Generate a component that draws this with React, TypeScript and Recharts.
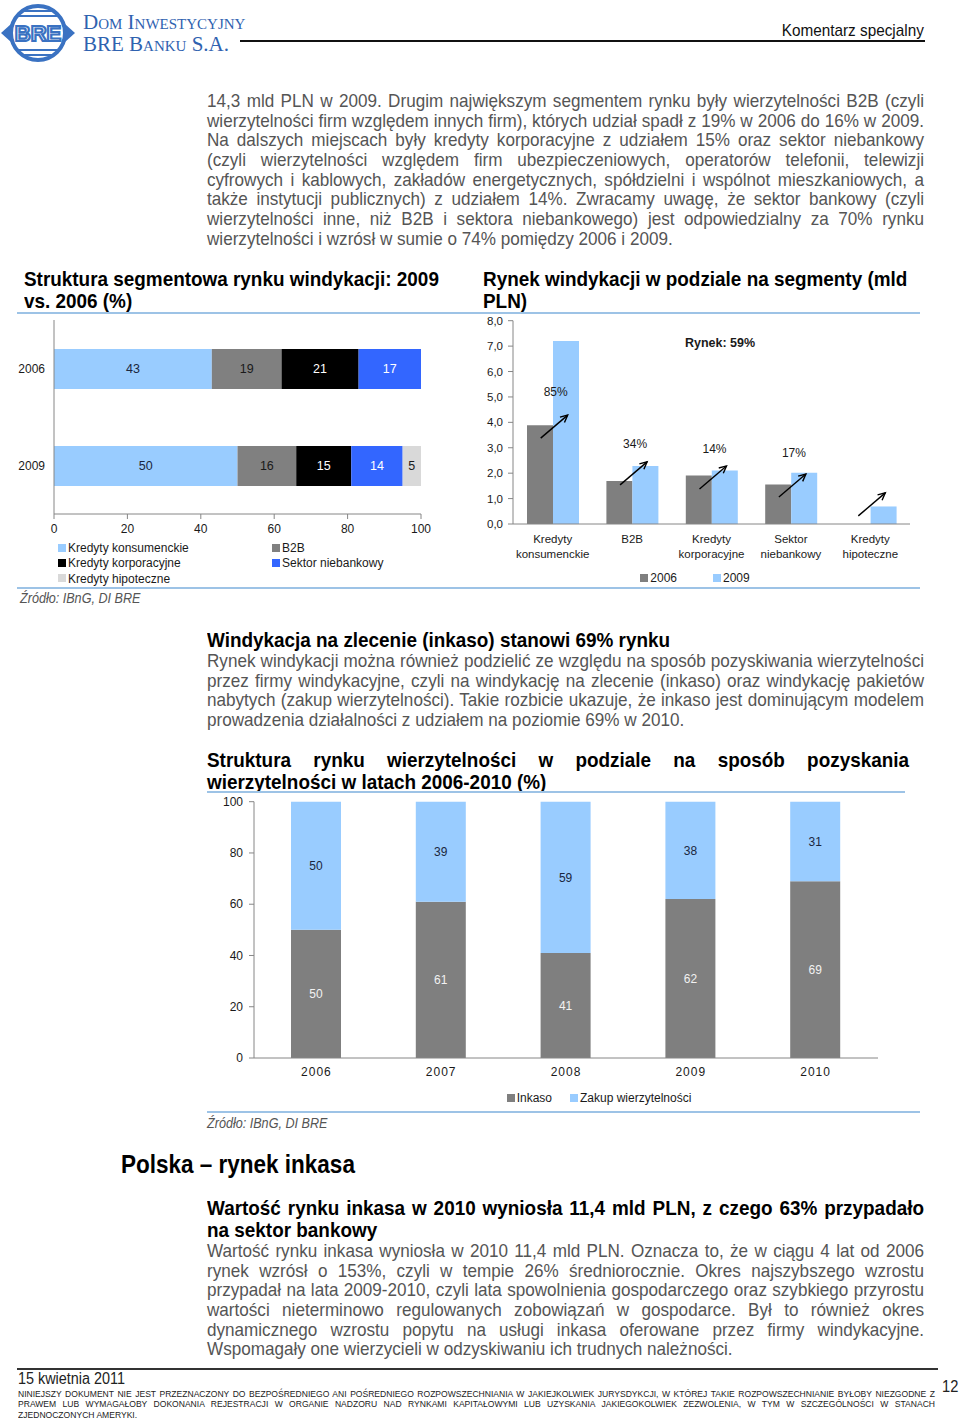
import React from 'react';
import { BarChart, Bar, XAxis, YAxis, LabelList, Legend, ComposedChart, Scatter } from 'recharts';

// ---------- DATA ----------
// Chart 1: Struktura segmentowa (%)
const segYears = ['2006', '2009'];
const segNames = ['Kredyty konsumenckie', 'B2B', 'Kredyty korporacyjne', 'Sektor niebankowy', 'Kredyty hipoteczne'];
const segKeys = ['kons', 'b2b', 'korp', 'sekt', 'hipo'];
const seg2006 = [43, 19, 21, 17, 0];
const seg2009 = [50, 16, 15, 14, 5];
const segColors = ['#99CCFF', '#808080', '#000000', '#3366FF', '#D9D9D9'];
const segLabelColors = ['#1B2740', '#1A1A1A', '#FFFFFF', '#FFFFFF', '#1A1A1A'];
const segTicks = [0, 20, 40, 60, 80, 100];

// Chart 2: Rynek windykacji w podziale na segmenty (mld PLN)
const mktCats = ['Kredyty konsumenckie', 'B2B', 'Kredyty korporacyjne', 'Sektor niebankowy', 'Kredyty hipoteczne'];
const mkt2006 = [3.89, 1.69, 1.91, 1.55, 0];
const mkt2009 = [7.2, 2.28, 2.11, 2.02, 0.69];
const mktGrowth = ['85%', '34%', '14%', '17%', ''];
const mktArrowBase = [3.38, 1.54, 1.38, 1.06, 0.32];
const mktGrowthPos = [5.2, 3.15, 2.95, 2.8, 2.8];
const mktTicks = [0, 1, 2, 3, 4, 5, 6, 7, 8];
const mktSeries = ['2006', '2009'];
const mktColors = ['#7F7F7F', '#99CCFF'];

// Chart 3: Struktura rynku wierzytelności (%)
const wYears = ['2006', '2007', '2008', '2009', '2010'];
const wInkaso = [50, 61, 41, 62, 69];
const wZakup = [50, 39, 59, 38, 31];
const wTicks = [0, 20, 40, 60, 80, 100];
const wSeries = ['Inkaso', 'Zakup wierzytelności'];
const wColors = ['#7F7F7F', '#99CCFF'];

// ---------- TEXT ----------
const para1 = [
  '14,3 mld PLN w 2009. Drugim największym segmentem rynku były wierzytelności B2B (czyli',
  'wierzytelności firm względem innych firm), których udział spadł z 19% w 2006 do 16% w 2009.',
  'Na dalszych miejscach były kredyty korporacyjne z udziałem 15% oraz sektor niebankowy',
  '(czyli wierzytelności względem firm ubezpieczeniowych, operatorów telefonii, telewizji',
  'cyfrowych i kablowych, zakładów energetycznych, spółdzielni i wspólnot mieszkaniowych, a',
  'także instytucji publicznych) z udziałem 14%. Zwracamy uwagę, że sektor bankowy (czyli',
  'wierzytelności inne, niż B2B i sektora niebankowego) jest odpowiedzialny za 70% rynku',
  'wierzytelności i wzrósł w sumie o 74% pomiędzy 2006 i 2009.',
];
const para2 = [
  'Rynek windykacji można również podzielić ze względu na sposób pozyskiwania wierzytelności',
  'przez firmy windykacyjne, czyli na windykację na zlecenie (inkaso) oraz windykację pakietów',
  'nabytych (zakup wierzytelności). Takie rozbicie ukazuje, że inkaso jest dominującym modelem',
  'prowadzenia działalności z udziałem na poziomie 69% w 2010.',
];
const para3 = [
  'Wartość rynku inkasa wyniosła w 2010 11,4 mld PLN. Oznacza to, że w ciągu 4 lat od 2006',
  'rynek wzrósł o 153%, czyli w tempie 26% średniorocznie. Okres najszybszego wzrostu',
  'przypadał na lata 2009-2010, czyli lata spowolnienia gospodarczego oraz szybkiego przyrostu',
  'wartości nieterminowo regulowanych zobowiązań w gospodarce. Był to również okres',
  'dynamicznego wzrostu popytu na usługi inkasa oferowane przez firmy windykacyjne.',
  'Wspomagały one wierzycieli w odzyskiwaniu ich trudnych należności.',
];
const disclaimer = [
  'NINIEJSZY DOKUMENT NIE JEST PRZEZNACZONY DO BEZPOŚREDNIEGO ANI POŚREDNIEGO ROZPOWSZECHNIANIA W JAKIEJKOLWIEK JURYSDYKCJI, W KTÓREJ TAKIE ROZPOWSZECHNIANIE BYŁOBY NIEZGODNE Z',
  'PRAWEM LUB WYMAGAŁOBY DOKONANIA REJESTRACJI W ORGANIE NADZORU NAD RYNKAMI KAPITAŁOWYMI LUB UZYSKANIA JAKIEGOKOLWIEK ZEZWOLENIA, W TYM W SZCZEGÓLNOŚCI W STANACH',
  'ZJEDNOCZONYCH AMERYKI.',
];

const SANS = '"Liberation Sans", Arial, sans-serif';
const SERIF = '"Liberation Serif", "DejaVu Serif", serif';
const BODY = '#555555';
const SEP = '#9DC3E6';
const AXIS = '#868686';
const SX = 0.9; // horizontal condensing of document text

// ---------- derived tables ----------
const segData = segYears.map((y, i) => {
  const row: any = { year: y };
  const vals = i === 0 ? seg2006 : seg2009;
  segKeys.forEach((k, j) => { row[k] = vals[j] || null; });
  return row;
});
const mktData = mktCats.map((c, i) => ({
  cat: c, v2006: mkt2006[i], v2009: mkt2009[i],
  arrow: mktArrowBase[i], growthPos: mktGrowthPos[i], growth: mktGrowth[i],
}));
const wData = wYears.map((y, i) => ({ year: y, inkaso: wInkaso[i], zakup: wZakup[i] }));

const comma1 = (v: number) => v.toFixed(1).replace('.', ',');

// ---------- helpers ----------
function Lines({ left, top, width, lh, lines, style, justifyLast = false, scale = SX }: any) {
  return (
    <div style={{ position: 'absolute', left, top, width: width / scale, transform: `scaleX(${scale})`, transformOrigin: '0 0', fontFamily: SANS, ...style }}>
      {lines.map((t: string, i: number) => (
        <div key={i} style={{
          height: lh, lineHeight: lh + 'px', whiteSpace: 'nowrap', textAlign: 'justify',
          textAlignLast: (i < lines.length - 1 || justifyLast) ? 'justify' : 'left',
        } as any}>{t}</div>
      ))}
    </div>
  );
}

function T({ left, right, top, lh, text, style, scale = SX }: any) {
  const pos: any = right != null ? { right, transformOrigin: '100% 0' } : { left, transformOrigin: '0 0' };
  return (
    <div style={{ position: 'absolute', top, ...pos, transform: `scaleX(${scale})`, lineHeight: lh + 'px', height: lh, whiteSpace: 'nowrap', fontFamily: SANS, ...style }}>{text}</div>
  );
}

function HLine({ x1, x2, y, color, w }: any) {
  return <div style={{ position: 'absolute', left: x1, top: y - w / 2, width: x2 - x1, height: w, background: color }} />;
}

const ArrowShape = (props: any) => {
  const { cx, cy } = props;
  if (cx == null || cy == null || isNaN(cx) || isNaN(cy)) return <g />;
  const x1 = cx - 12, y1 = cy, x2 = cx + 15, y2 = cy - 23;
  const ang = Math.atan2(y2 - y1, x2 - x1);
  const L = 8;
  const a1 = ang + Math.PI - 0.45, a2 = ang + Math.PI + 0.45;
  return (
    <g>
      <line x1={x1} y1={y1} x2={x2} y2={y2} stroke="#000" strokeWidth={1.4} />
      <polyline
        points={`${x2 + L * Math.cos(a1)},${y2 + L * Math.sin(a1)} ${x2},${y2} ${x2 + L * Math.cos(a2)},${y2 + L * Math.sin(a2)}`}
        fill="none" stroke="#000" strokeWidth={1.4} />
    </g>
  );
};

const GrowthText = (props: any) => {
  const { cx, cy, payload } = props;
  if (cx == null || cy == null || !payload || !payload.growth) return <g />;
  return (
    <text x={cx + 3} y={cy} textAnchor="middle" dominantBaseline="central"
      fontFamily={SANS} fontSize={12} fill="#1A1A1A">{payload.growth}</text>
  );
};

const CatTick = (props: any) => {
  const { x, y, payload } = props;
  const words = String(payload.value).split(' ');
  return (
    <text x={x} y={y} textAnchor="middle" fontFamily={SANS} fontSize={11.5} fill="#1A1A1A">
      {words.map((w, i) => (
        <tspan key={i} x={x} dy={i === 0 ? '0.71em' : 15}>{w}</tspan>
      ))}
    </text>
  );
};

const Swatch = ({ color }: any) => (
  <span style={{ display: 'inline-block', width: 8, height: 8, background: color, marginRight: 2, verticalAlign: 'middle', position: 'relative', top: -1 }} />
);

// ---------- charts ----------
function SegmentChart() {
  return (
    <div style={{ position: 'absolute', left: 0, top: 318, width: 440 }}>
      <BarChart layout="vertical" width={440} height={269} data={segData}
        margin={{ top: 2, right: 19, left: 0, bottom: 0 }} barSize={40}>
        <XAxis type="number" domain={[0, 100]} ticks={segTicks} interval={0}
          axisLine={{ stroke: AXIS }} tickLine={{ stroke: AXIS }} tickSize={5} tickMargin={5}
          height={27} tick={{ fontFamily: SANS, fontSize: 12, fill: '#1A1A1A' }} />
        <YAxis type="category" dataKey="year" width={54}
          axisLine={{ stroke: AXIS }} tickLine={false} tickSize={6} tickMargin={3}
          tick={{ fontFamily: SANS, fontSize: 12, fill: '#1A1A1A' }} />
        {segKeys.map((k, i) => (
          <Bar key={k} dataKey={k} name={segNames[i]} stackId="s" fill={segColors[i]} isAnimationActive={false}>
            <LabelList dataKey={k} position="center" fill={segLabelColors[i]}
              style={{ fontFamily: SANS, fontSize: 12.5 }}
              formatter={(v: any) => (v ? v : '')} />
          </Bar>
        ))}
        <Legend verticalAlign="bottom" wrapperStyle={{ left: 58, width: 380 }}
          content={() => (
            <div style={{ display: 'grid', gridTemplateColumns: '214px 166px', fontFamily: SANS, fontSize: 12, lineHeight: '14px', color: '#1A1A1A', height: 46 }}>
              {segNames.map((n, i) => (
                <div key={n} style={{ whiteSpace: 'nowrap' }}><Swatch color={segColors[i]} />{n}</div>
              ))}
            </div>
          )} />
      </BarChart>
    </div>
  );
}

function MarketChart() {
  return (
    <div style={{ position: 'absolute', left: 480, top: 310, width: 440 }}>
      <ComposedChart width={440} height={277} data={mktData}
        margin={{ top: 10.7, right: 10, left: 0, bottom: 0 }} barSize={26} barGap={0}>
        <XAxis dataKey="cat" type="category" interval={0} axisLine={{ stroke: AXIS }} tickLine={false}
          tickSize={6} tickMargin={5} height={45} tick={<CatTick />} />
        <YAxis type="number" domain={[0, 8]} ticks={mktTicks} interval={0} width={33}
          axisLine={{ stroke: AXIS }} tickLine={{ stroke: AXIS }} tickSize={5} tickMargin={5}
          tickFormatter={comma1} tick={{ fontFamily: SANS, fontSize: 11.5, fill: '#1A1A1A' }} />
        <Bar dataKey="v2006" name={mktSeries[0]} fill={mktColors[0]} isAnimationActive={false} />
        <Bar dataKey="v2009" name={mktSeries[1]} fill={mktColors[1]} isAnimationActive={false} />
        <Scatter dataKey="arrow" shape={<ArrowShape />} isAnimationActive={false} legendType="none" />
        <Scatter dataKey="growthPos" shape={<GrowthText />} isAnimationActive={false} legendType="none" />
        <Legend verticalAlign="bottom"
          content={() => (
            <div style={{ display: 'flex', justifyContent: 'center', gap: 36, fontFamily: SANS, fontSize: 12, lineHeight: '18px', color: '#1A1A1A', height: 18 }}>
              {mktSeries.map((n, i) => (
                <div key={n} style={{ whiteSpace: 'nowrap' }}><Swatch color={mktColors[i]} />{n}</div>
              ))}
            </div>
          )} />
      </ComposedChart>
      <div style={{ position: 'absolute', left: 240, top: 33, transform: 'translate(-50%,-50%)', fontFamily: SANS, fontWeight: 'bold', fontSize: 12.5, color: '#1A1A1A', whiteSpace: 'nowrap' }}>Rynek: 59%</div>
    </div>
  );
}

function AcquisitionChart() {
  return (
    <div style={{ position: 'absolute', left: 200, top: 790, width: 720 }}>
      <BarChart width={720} height={318} data={wData}
        margin={{ top: 11.7, right: 42, left: 0, bottom: 0 }} barSize={50}>
        <XAxis dataKey="year" interval={0} axisLine={{ stroke: AXIS }} tickLine={false}
          tickSize={6} tickMargin={3} height={30}
          tick={{ fontFamily: SANS, fontSize: 12, fill: '#1A1A1A', letterSpacing: 1 } as any} />
        <YAxis type="number" domain={[0, 100]} ticks={wTicks} interval={0} width={54}
          axisLine={{ stroke: AXIS }} tickLine={{ stroke: AXIS }} tickSize={5} tickMargin={6}
          tick={{ fontFamily: SANS, fontSize: 12, fill: '#1A1A1A' }} />
        <Bar dataKey="inkaso" name={wSeries[0]} stackId="w" fill={wColors[0]} isAnimationActive={false}>
          <LabelList dataKey="inkaso" position="center" fill="#F2F2F2" style={{ fontFamily: SANS, fontSize: 12 }} />
        </Bar>
        <Bar dataKey="zakup" name={wSeries[1]} stackId="w" fill={wColors[1]} isAnimationActive={false}>
          <LabelList dataKey="zakup" position="center" fill="#1B2740" style={{ fontFamily: SANS, fontSize: 12 }} />
        </Bar>
        <Legend verticalAlign="bottom"
          content={() => (
            <div style={{ display: 'flex', justifyContent: 'center', gap: 18, paddingLeft: 120, fontFamily: SANS, fontSize: 12, lineHeight: '20px', color: '#1A1A1A', height: 20 }}>
              {wSeries.map((n, i) => (
                <div key={n} style={{ whiteSpace: 'nowrap' }}><Swatch color={wColors[i]} />{n}</div>
              ))}
            </div>
          )} />
      </BarChart>
    </div>
  );
}

function Logo() {
  const c = '#3A72C2';
  return (
    <svg width={80} height={66} style={{ position: 'absolute', left: 0, top: 1 }}>
      <defs>
        <clipPath id="lc"><circle cx={38} cy={32} r={26} /></clipPath>
      </defs>
      <circle cx={38} cy={32} r={27} fill="none" stroke={c} strokeWidth={4} />
      <g clipPath="url(#lc)" stroke={c} strokeWidth={2.2}>
        <line x1={0} y1={10} x2={80} y2={10} />
        <line x1={0} y1={15} x2={80} y2={15} />
        <line x1={0} y1={49} x2={80} y2={49} />
        <line x1={0} y1={54} x2={80} y2={54} />
      </g>
      <polygon points="1,32 11,23 11,41" fill={c} />
      <polygon points="75,32 65,23 65,41" fill={c} />
      <text x={38} y={40} textAnchor="middle" fontFamily={SANS} fontWeight="bold" fontSize={22} fill="#fff" stroke={c} strokeWidth={2.2} style={{ paintOrder: 'fill' } as any}>BRE</text>
    </svg>
  );
}

const H = { fontSize: 21, fontWeight: 'bold', color: '#000' };
const B = { fontSize: 19, color: BODY };

export default function App() {
  return (
    <div style={{ position: 'absolute', left: 0, top: 0, width: 960, height: 1420, background: '#fff', overflow: 'hidden' }}>
      {/* Header */}
      <Logo />
      <div style={{ position: 'absolute', left: 83, top: 11, fontFamily: SERIF, fontVariant: 'small-caps', fontSize: 21, lineHeight: '22px', color: '#2F62B0', whiteSpace: 'nowrap' }}>Dom Inwestycyjny</div>
      <div style={{ position: 'absolute', left: 83, top: 33, fontFamily: SERIF, fontVariant: 'small-caps', fontSize: 21, lineHeight: '22px', color: '#2F62B0', whiteSpace: 'nowrap' }}>BRE Banku S.A.</div>
      <HLine x1={240} x2={925} y={41} color="#111" w={1.4} />
      <T right={36} top={22} lh={18} text="Komentarz specjalny" style={{ fontSize: 17, color: '#111' }} />

      {/* Paragraph 1 */}
      <Lines left={207} top={91} width={717} lh={19.7} lines={para1} style={B} />

      {/* Chart titles */}
      <T left={24} top={268} lh={22} text="Struktura segmentowa rynku windykacji: 2009" style={H} />
      <T left={24} top={290} lh={22} text="vs. 2006 (%)" style={H} />
      <T left={483} top={268} lh={22} text="Rynek windykacji w podziale na segmenty (mld" style={H} />
      <T left={483} top={290} lh={22} text="PLN)" style={H} />
      <HLine x1={17} x2={920} y={313} color={SEP} w={2} />

      <SegmentChart />
      <MarketChart />

      <HLine x1={17} x2={920} y={588} color={SEP} w={2} />
      <T left={20} top={590} lh={16} text="Źródło: IBnG, DI BRE" style={{ fontStyle: 'italic', fontSize: 14, color: BODY }} />

      {/* Section 2 */}
      <T left={207} top={629} lh={22} text="Windykacja na zlecenie (inkaso) stanowi 69% rynku" style={H} />
      <Lines left={207} top={651} width={717} lh={19.7} lines={para2} style={B} />

      <Lines left={207} top={749} width={702} lh={22} lines={['Struktura rynku wierzytelności w podziale na sposób pozyskania', 'wierzytelności w latach 2006-2010 (%)']} style={H} />
      <HLine x1={207} x2={905} y={792} color={SEP} w={2} />

      <AcquisitionChart />

      <HLine x1={207} x2={920} y={1112} color={SEP} w={2} />
      <T left={207} top={1115} lh={16} text="Źródło: IBnG, DI BRE" style={{ fontStyle: 'italic', fontSize: 14, color: BODY }} />

      {/* Section 3 */}
      <T left={121} top={1150} lh={28} text="Polska – rynek inkasa" style={{ fontSize: 25, fontWeight: 'bold', color: '#000' }} />
      <Lines left={207} top={1197} width={717} lh={22} lines={['Wartość rynku inkasa w 2010 wyniosła 11,4 mld PLN, z czego 63% przypadało', 'na sektor bankowy']} style={H} />
      <Lines left={207} top={1241} width={717} lh={19.7} lines={para3} style={B} />

      {/* Footer */}
      <HLine x1={17} x2={938} y={1369} color="#333" w={1.6} />
      <T left={18} top={1372} lh={14} text="15 kwietnia 2011" style={{ fontSize: 16, color: '#222' }} />
      <T left={942} top={1378} lh={16} text="12" style={{ fontSize: 16.3, color: '#222' }} />
      <Lines left={18} top={1388.5} width={917} lh={10.5} lines={disclaimer} style={{ fontSize: 9.5, color: '#222' }} />
    </div>
  );
}
